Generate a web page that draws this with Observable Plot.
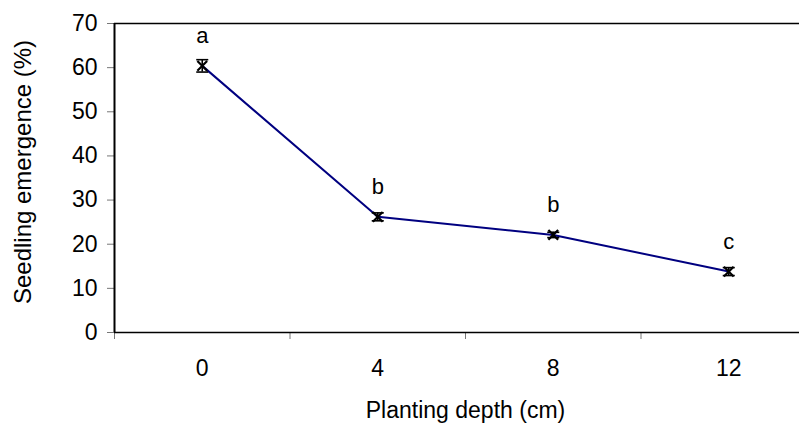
<!DOCTYPE html>
<html>
<head>
<meta charset="utf-8">
<script src="https://cdn.jsdelivr.net/npm/d3@7"></script>
<script src="https://cdn.jsdelivr.net/npm/@observablehq/plot@0.6"></script>
<style>
  html, body { margin: 0; padding: 0; background: #fff; }
</style>
</head>
<body>
<div id="chart"></div>
<script>
const depths = [0, 4, 8, 12];
const emergence = [60.4, 26.2, 22.1, 13.8];
const errors = [1.4, 0.9, 0.6, 0.9];
const letters = ["a", "b", "b", "c"];
const yTicks = [0, 10, 20, 30, 40, 50, 60, 70];
const xBetweenTicks = [-2, 2, 6, 10];
const xDomain = [-2, 14];

const data = depths.map((d, i) => ({depth: d, value: emergence[i], err: errors[i], letter: letters[i]}));

const cap = {draw(ctx, size) { const w = Math.sqrt(size); ctx.moveTo(-w, 0); ctx.lineTo(w, 0); }};

const chart = Plot.plot({
  width: 799,
  height: 423,
  marginTop: 23,
  marginBottom: 91,
  marginLeft: 114,
  marginRight: 0,
  style: {fontFamily: "'Liberation Sans', Arial, sans-serif", fontSize: "22px", background: "#fff", color: "#000"},
  x: {domain: xDomain, range: [114, 816]},
  y: {domain: [0, 70]},
  marks: [
    Plot.axisY({ticks: yTicks, tickSize: 7, tickPadding: 10, label: null, stroke: "#777", fill: "#000", fontSize: 23}),
    Plot.axisX({ticks: xBetweenTicks, tickSize: 7, tickFormat: () => "", label: null, stroke: "#777"}),
    Plot.axisX({ticks: depths, tickSize: 0, tickPadding: 27, label: null, fill: "#000", fontSize: 23}),
    Plot.ruleY([0, 70], {stroke: "#000", strokeWidth: 1.6}),
    Plot.ruleX([xDomain[0]], {stroke: "#000", strokeWidth: 2}),
    Plot.text(["Seedling emergence (%)"], {frameAnchor: "left", textAnchor: "middle", lineAnchor: "middle", rotate: -90, dx: -91, dy: -6, fontSize: 24}),
    Plot.text(["Planting depth (cm)"], {x: () => d3.mean(xDomain), frameAnchor: "bottom", lineAnchor: "middle", dy: 78, fontSize: 23}),
    Plot.line(data, {x: "depth", y: "value", stroke: "#000080", strokeWidth: 2}),
    Plot.ruleX(data, {x: "depth", y1: d => d.value - d.err, y2: d => d.value + d.err, stroke: "#000", strokeWidth: 1.6}),
    Plot.dot(data, {x: "depth", y: d => d.value + d.err, symbol: cap, r: 3.4, stroke: "#000", strokeWidth: 1.6}),
    Plot.dot(data, {x: "depth", y: d => d.value - d.err, symbol: cap, r: 3.4, stroke: "#000", strokeWidth: 1.6}),
    Plot.dot(data, {x: "depth", y: "value", symbol: "times", r: 4.5, stroke: "#000", strokeWidth: 2.2}),
    Plot.text(data, {x: "depth", y: "value", text: "letter", dy: -30, fontSize: 22})
  ]
});
document.getElementById("chart").appendChild(chart);
</script>
</body>
</html>
